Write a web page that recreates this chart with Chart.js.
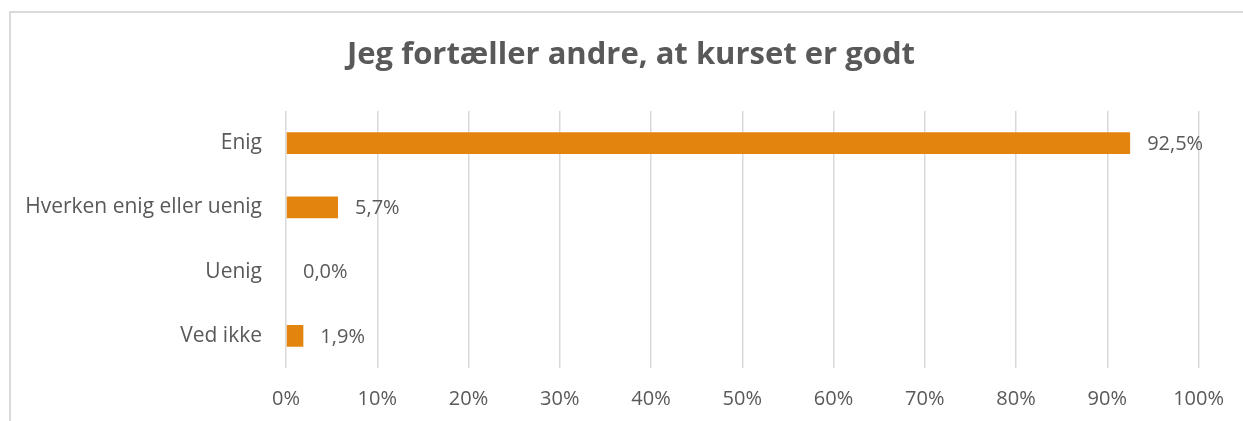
<!DOCTYPE html>
<html>
<head>
<meta charset="utf-8">
<script src="https://cdn.jsdelivr.net/npm/chart.js@4/dist/chart.umd.min.js"></script>
<style>
  html, body { margin: 0; padding: 0; background: #fff; }
  canvas { display: block; }
</style>
</head>
<body>
<canvas id="chart" width="1243" height="421"></canvas>
<script>
const chartTitle = 'Jeg fortæller andre, at kurset er godt';
const categories = ['Enig', 'Hverken enig eller uenig', 'Uenig', 'Ved ikke'];
const shares = [92.5, 5.7, 0.0, 1.9];
const xTicks = [0, 10, 20, 30, 40, 50, 60, 70, 80, 90, 100];

const textColor = '#595959';
const barColor = '#E2840D';
const fontFamily = '"Open Sans", "Noto Sans", sans-serif';

const frameAndTitle = {
  id: 'frameAndTitle',
  beforeDraw(chart) {
    const ctx = chart.ctx;
    ctx.save();
    ctx.fillStyle = '#fff';
    ctx.fillRect(0, 0, chart.width, chart.height);
    ctx.strokeStyle = '#d9d9d9';
    ctx.lineWidth = 2;
    ctx.strokeRect(10, 12, chart.width + 20, chart.height + 20);
    ctx.fillStyle = textColor;
    ctx.font = 'bold 31px ' + fontFamily;
    ctx.textAlign = 'center';
    ctx.textBaseline = 'middle';
    ctx.fillText(chartTitle, 631, 55);
    ctx.restore();
  }
};

const valueLabels = {
  id: 'valueLabels',
  afterDatasetsDraw(chart) {
    const ctx = chart.ctx;
    const meta = chart.getDatasetMeta(0);
    ctx.save();
    ctx.fillStyle = textColor;
    ctx.font = '20px ' + fontFamily;
    ctx.textAlign = 'left';
    ctx.textBaseline = 'middle';
    meta.data.forEach((bar, i) => {
      const label = shares[i].toFixed(1).replace('.', ',') + '%';
      ctx.fillText(label, bar.x + 17, bar.y + 1);
    });
    ctx.restore();
  }
};

new Chart(document.getElementById('chart'), {
  type: 'bar',
  data: {
    labels: categories,
    datasets: [{
      data: shares,
      backgroundColor: barColor,
      borderWidth: 0,
      barPercentage: 0.34,
      categoryPercentage: 1
    }]
  },
  options: {
    indexAxis: 'y',
    responsive: false,
    animation: false,
    events: [],
    layout: { padding: { top: 111, right: 44, left: 0, bottom: 0 } },
    plugins: {
      legend: { display: false },
      title: { display: false },
      tooltip: { enabled: false }
    },
    scales: {
      x: {
        min: 0,
        max: 100,
        afterBuildTicks: scale => { scale.ticks = xTicks.map(v => ({ value: v })); },
        afterFit: scale => { scale.height = 53; },
        grid: { color: '#d9d9d9', lineWidth: 1.5, drawTicks: false },
        border: { display: false },
        ticks: {
          color: textColor,
          font: { family: fontFamily, size: 20 },
          padding: 19,
          callback: v => v + '%'
        }
      },
      y: {
        afterFit: scale => { scale.width = 286; },
        grid: { display: false, drawTicks: false },
        border: { display: false },
        ticks: {
          color: textColor,
          font: { family: fontFamily, size: 21 },
          padding: 24
        }
      }
    }
  },
  plugins: [frameAndTitle, valueLabels]
});
</script>
</body>
</html>
